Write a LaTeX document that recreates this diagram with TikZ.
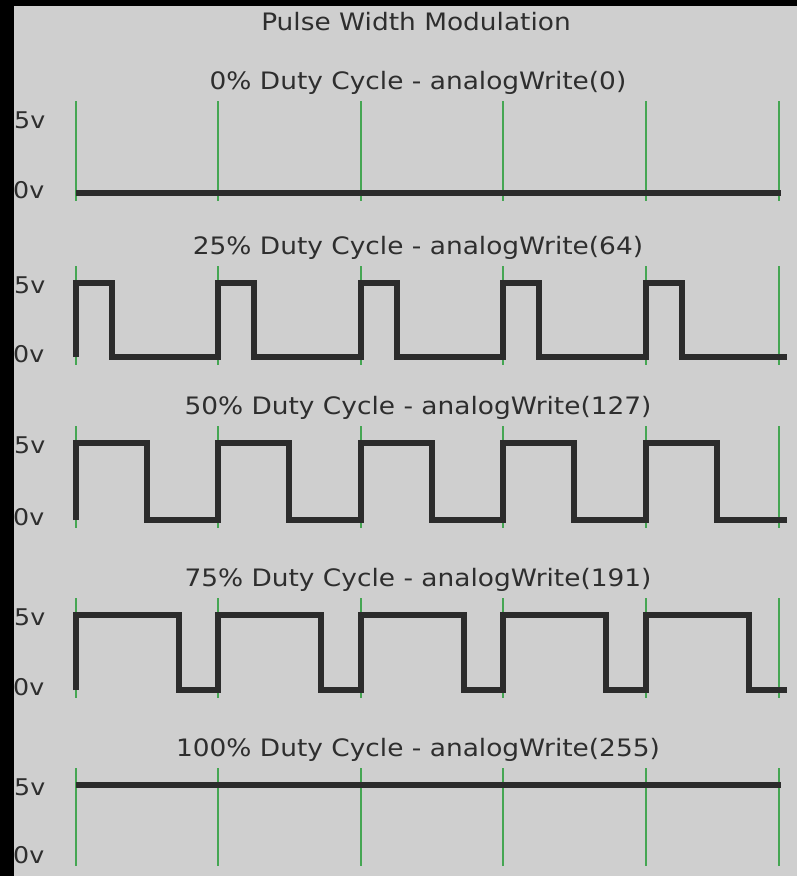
\documentclass[tikz,border=0pt]{standalone}
\usepackage{fontspec}
\setmainfont{DejaVu Sans}[FakeStretch=1.1]
\definecolor{panelgray}{HTML}{CFCFCF}
\definecolor{wavegray}{HTML}{2C2C2C}
\definecolor{markgreen}{HTML}{45A653}
\definecolor{labelgray}{HTML}{2E2E2E}

\begin{document}
\begin{tikzpicture}[x=1pt, y=-1pt,
    wave/.style={line width=6.5pt, draw=wavegray, line join=miter},
    marker/.style={line width=1.6pt, draw=markgreen},
    heading/.style={font=\fontsize{24}{28}\selectfont, text=labelgray, inner sep=0pt},
    level/.style={font=\fontsize{23}{27}\selectfont, text=labelgray,
      anchor=west, inner sep=0pt}
  ]
  \useasboundingbox (0,0) rectangle (797,876);
  \fill[black] (0,0) rectangle (797,876);
  \fill[panelgray] (14,6) rectangle (797,876);

  \node[heading] (title) at (416,22) {Pulse Width Modulation};

  % one panel per duty cycle: name / high level / low level / caption
  \foreach \name/\hi/\lo/\txt in {
      p0/118/193/{0\% Duty Cycle - analogWrite(0)},
      p25/283/357/{25\% Duty Cycle - analogWrite(64)},
      p50/443/520/{50\% Duty Cycle - analogWrite(127)},
      p75/615/690/{75\% Duty Cycle - analogWrite(191)},
      p100/785/858/{100\% Duty Cycle - analogWrite(255)}}
  {
    \node[heading] (cap-\name) at (418,\hi-35) {\txt};
    \node[level] (hi-\name) at (14,\hi+2) {5v};
    \node[level] (lo-\name) at (13,\lo-3) {0v};
    \foreach \s in {76,218,361,503,646,779}
      {\draw[marker] (\s,\hi-17) -- (\s,\lo+8);}
  }

  % flat lines
  \draw[wave] (76,193) -- (781,193);
  \draw[wave] (76,785) -- (781,785);

  % pulse trains: high level / low level / pulse width
  \foreach \hi/\lo/\w in {283/357/36, 443/520/71, 615/690/103}
  {
    \draw[wave] (76,\lo)
      \foreach \s in {76,218,361,503,646}
        { -- (\s,\lo) -- (\s,\hi) -- (\s+\w,\hi) -- (\s+\w,\lo) }
      -- (787,\lo);
  }
\end{tikzpicture}
\end{document}
